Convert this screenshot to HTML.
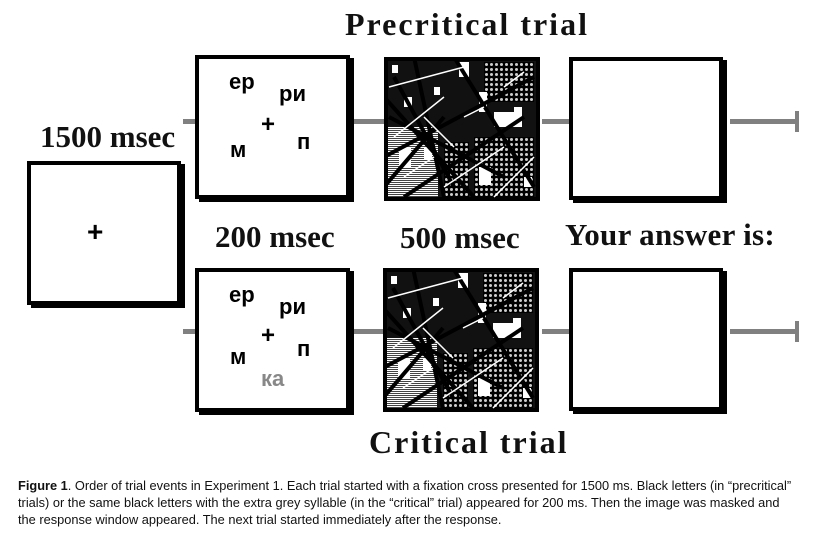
<!DOCTYPE html>
<html><head><meta charset="utf-8"><style>
body{margin:0;width:832px;height:542px;background:#fff;position:relative;overflow:hidden;font-family:"Liberation Serif",serif}
.t{position:absolute;font-weight:bold;color:#111;white-space:nowrap;line-height:1}
.box{position:absolute;background:#fff;border:4px solid #000;box-shadow:4px 3px 0 #000;box-sizing:border-box}
.ln{position:absolute;background:#808080;height:5px}
.bar{position:absolute;background:#808080;width:4px;height:21px}
.c{position:absolute;font-family:"Liberation Sans",sans-serif;font-weight:900;font-size:22px;line-height:1;color:#000}
.cap{position:absolute;left:18px;top:477px;font-family:"Liberation Sans",sans-serif;font-size:12.8px;line-height:17px;color:#111;width:780px}
</style></head><body>
<div class="t" style="left:345px;top:8px;font-size:32px;letter-spacing:2px">Precritical trial</div>
<div class="t" style="left:40px;top:121px;font-size:31px">1500 msec</div>
<div class="t" style="left:215px;top:221px;font-size:31px">200 msec</div>
<div class="t" style="left:400px;top:222px;font-size:31px">500 msec</div>
<div class="t" style="left:565px;top:219px;font-size:31px;letter-spacing:0.3px">Your answer is:</div>
<div class="t" style="left:369px;top:426px;font-size:32px;letter-spacing:2px">Critical trial</div>

<div class="ln" style="left:183px;top:119px;width:14px"></div>
<div class="ln" style="left:350px;top:119px;width:36px"></div>
<div class="ln" style="left:542px;top:119px;width:28px"></div>
<div class="ln" style="left:730px;top:119px;width:66px"></div>
<div class="bar" style="left:795px;top:111px"></div>
<div class="ln" style="left:183px;top:329px;width:14px"></div>
<div class="ln" style="left:350px;top:329px;width:36px"></div>
<div class="ln" style="left:542px;top:329px;width:28px"></div>
<div class="ln" style="left:730px;top:329px;width:66px"></div>
<div class="bar" style="left:795px;top:321px"></div>

<div class="box" style="left:27px;top:161px;width:154px;height:144px"><div class="c" style="left:56px;top:53px;font-size:28px">+</div></div>

<div class="box" style="left:195px;top:55px;width:155px;height:144px">
<div class="c" style="left:30px;top:12px">ер</div><div class="c" style="left:80px;top:24px">ри</div>
<div class="c" style="left:62px;top:54px;font-size:24px">+</div><div class="c" style="left:31px;top:80px">м</div><div class="c" style="left:98px;top:72px">п</div></div>
<div class="box" style="left:195px;top:268px;width:155px;height:144px">
<div class="c" style="left:30px;top:12px">ер</div><div class="c" style="left:80px;top:24px">ри</div>
<div class="c" style="left:62px;top:52px;font-size:24px">+</div><div class="c" style="left:31px;top:74px">м</div><div class="c" style="left:98px;top:66px">п</div>
<div class="c" style="left:62px;top:96px;color:#888">ка</div></div>

<svg style="position:absolute;left:384px;top:57px" width="160" height="146"><use href="#m"/></svg>
<svg style="position:absolute;left:383px;top:268px" width="160" height="146"><use href="#m"/></svg>
<svg width="0" height="0" style="position:absolute"><defs>
<pattern id="h" width="2" height="2" patternUnits="userSpaceOnUse"><rect width="2" height="1" fill="#fff"/><rect y="1" width="2" height="1" fill="#444"/></pattern>
<pattern id="x" width="5" height="5" patternUnits="userSpaceOnUse"><rect width="5" height="5" fill="#000"/><circle cx="2.5" cy="2.5" r="1.5" fill="#ccc"/></pattern>
<g id="m">
<rect x="0" y="0" width="156" height="144" fill="#000"/>
<rect x="4" y="4" width="148" height="136" fill="#111"/>
<rect x="4" y="70" width="50" height="70" fill="url(#h)"/>
<rect x="90" y="80" width="60" height="60" fill="url(#x)"/>
<rect x="100" y="5" width="50" height="40" fill="url(#x)"/>
<rect x="60" y="85" width="25" height="55" fill="url(#x)"/>
<rect x="15" y="90" width="12" height="20" fill="#fff"/>
<rect x="75" y="5" width="10" height="15" fill="#fff"/>
<rect x="95" y="35" width="8" height="20" fill="#fff"/>
<rect x="130" y="50" width="8" height="20" fill="#fff"/>
<rect x="40" y="90" width="8" height="12" fill="#fff"/>
<rect x="95" y="110" width="12" height="18" fill="#fff"/>
<rect x="110" y="55" width="20" height="15" fill="#fff"/>
<rect x="20" y="40" width="8" height="10" fill="#fff"/>
<rect x="8" y="8" width="6" height="8" fill="#fff"/>
<rect x="50" y="30" width="6" height="8" fill="#fff"/>
<rect x="140" y="120" width="8" height="10" fill="#fff"/>
<g stroke="#000" stroke-width="4" fill="none">
<path d="M0 40L90 140M10 20L70 130M30 0L60 140M0 100L150 20M20 140L140 60M5 60L120 120M70 0L150 130M0 130L60 60"/></g>
<g stroke="#fff" stroke-width="1.5" fill="none">
<path d="M5 30L80 10M10 80L60 40M60 130L120 90M110 140L150 100M40 60L70 90M120 30L140 15M20 120L50 100M80 60L100 50"/></g>
</g></defs></svg>

<div class="box" style="left:569px;top:57px;width:154px;height:143px"></div>
<div class="box" style="left:569px;top:268px;width:154px;height:143px"></div>

<div class="cap"><b>Figure 1</b>. Order of trial events in Experiment 1. Each trial started with a fixation cross presented for 1500 ms. Black letters (in “precritical” trials) or the same black letters with the extra grey syllable (in the “critical” trial) appeared for 200 ms. Then the image was masked and the response window appeared. The next trial started immediately after the response.</div>
</body></html>
